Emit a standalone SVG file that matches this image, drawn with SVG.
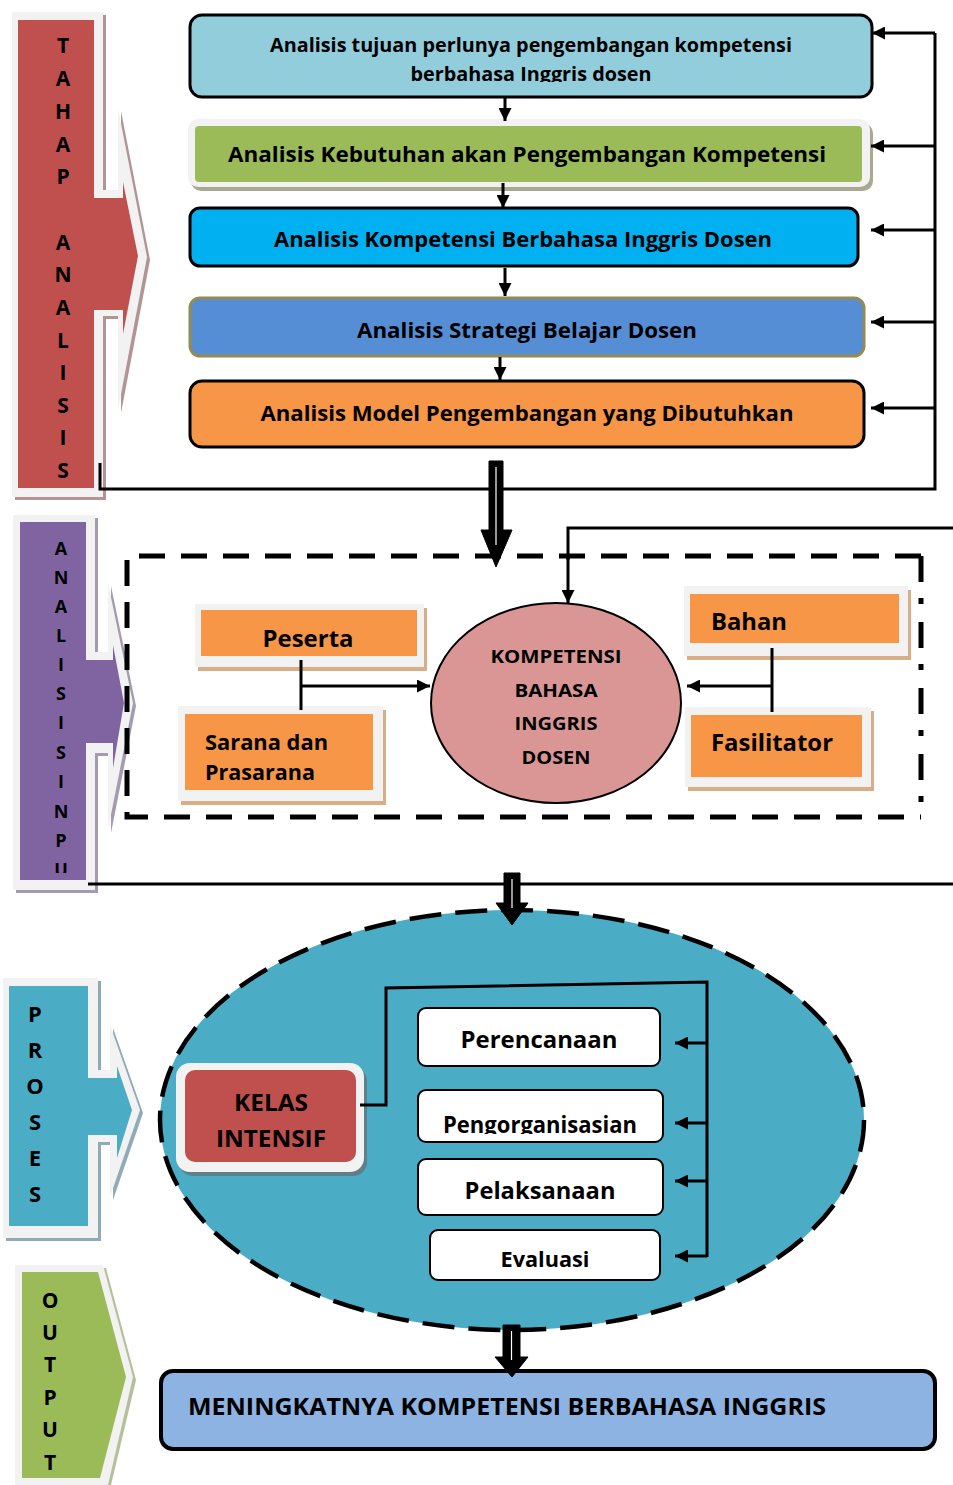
<svg xmlns="http://www.w3.org/2000/svg" width="953" height="1485" viewBox="0 0 953 1485">
  <defs>
    <marker id="tri" viewBox="0 0 10 10" refX="10" refY="5" markerWidth="13" markerHeight="13" markerUnits="userSpaceOnUse" orient="auto">
      <path d="M0,0 L10,5 L0,10 Z" fill="#000"/>
    </marker>
    <clipPath id="clipBox1"><rect x="190" y="15" width="682" height="67"/></clipPath>
    <clipPath id="clipOrg"><rect x="418" y="1090" width="245" height="44"/></clipPath>
    <clipPath id="clipInput"><rect x="20" y="522" width="66" height="351"/></clipPath>
  </defs>
  <style>
    text { font-family: "Open Sans", "Liberation Sans", sans-serif; font-weight: bold; fill: #000; }
    .c { text-anchor: middle; }
    .side { font-size: 21px; text-anchor: middle; }
    .gray { fill: #f2f2f2; }
    .conn { fill: none; stroke: #000; stroke-width: 3; }
    .arr { marker-end: url(#tri); }
    .dbl { fill: #000; stroke: #000; stroke-width: 1; stroke-linejoin: miter; }
    .dbl-gap { stroke: #fff; stroke-width: 1.2; }
    .orange { fill: #f79646; }
    .tan { fill: #d9ad86; }
    .white { fill: #fff; stroke: #000; stroke-width: 2; }
  </style>

  <!-- Stage label: TAHAP ANALISIS -->
  <g id="tahap-analisis">
    <path d="M15,15 H106 V193 H121 V111 L150,260 L121,413 V319 H106 V500 H15 Z" fill="#b39494"/>
    <path class="gray" d="M12,12 H103 V190 H118 V108 L147,257 L118,410 V316 H103 V497 H12 Z"/>
    <path d="M18,20 H94 V198 H123 V182 L138,256 L123,334 V310 H94 V488 H18 Z" fill="#c0504d"/>
    <g class="side">
      <text x="63" y="53">T</text><text x="63" y="86">A</text><text x="63" y="119">H</text>
      <text x="63" y="152">A</text><text x="63" y="184">P</text>
      <text x="63" y="250">A</text><text x="63" y="282">N</text><text x="63" y="315">A</text>
      <text x="63" y="348">L</text><text x="63" y="380">I</text><text x="63" y="413">S</text>
      <text x="63" y="445">I</text><text x="63" y="478">S</text>
    </g>
  </g>

  <!-- Analysis steps -->
  <g id="step1">
    <rect x="190" y="15" width="682" height="82" rx="12" fill="#92cddc" stroke="#000" stroke-width="3"/>
    <text class="c" x="531" y="52" font-size="20" textLength="522" lengthAdjust="spacingAndGlyphs">Analisis tujuan perlunya pengembangan kompetensi</text>
    <g clip-path="url(#clipBox1)">
      <text class="c" x="531" y="81" font-size="20" textLength="241" lengthAdjust="spacingAndGlyphs">berbahasa Inggris dosen</text>
    </g>
  </g>
  <g id="step2">
    <rect x="191" y="123" width="682" height="68" rx="10" fill="#a9a98f"/>
    <rect class="gray" x="188" y="119" width="682" height="68" rx="10"/>
    <rect x="195" y="126" width="667" height="56" rx="4" fill="#9bbb59"/>
    <text class="c" x="527" y="162" font-size="22" textLength="598" lengthAdjust="spacingAndGlyphs">Analisis Kebutuhan  akan Pengembangan  Kompetensi</text>
  </g>
  <g id="step3">
    <rect x="190" y="208" width="668" height="58" rx="10" fill="#00b0f0" stroke="#000" stroke-width="3"/>
    <text class="c" x="523" y="247" font-size="21" textLength="498" lengthAdjust="spacingAndGlyphs">Analisis Kompetensi Berbahasa Inggris Dosen</text>
  </g>
  <g id="step4">
    <rect x="190" y="298" width="674" height="58" rx="10" fill="#558ed5" stroke="#948a54" stroke-width="3"/>
    <text class="c" x="527" y="338" font-size="21" textLength="340" lengthAdjust="spacingAndGlyphs">Analisis Strategi Belajar  Dosen</text>
  </g>
  <g id="step5">
    <rect x="190" y="381" width="674" height="66" rx="12" fill="#f79646" stroke="#000" stroke-width="3"/>
    <text class="c" x="527" y="421" font-size="21" textLength="533" lengthAdjust="spacingAndGlyphs">Analisis Model Pengembangan yang Dibutuhkan</text>
  </g>

  <!-- Stage label: ANALISIS INPUT -->
  <g id="analisis-input">
    <path d="M16,518 H98 V655 H111 V586 L136,706 L111,833 V756 H98 V893 H16 Z" fill="#a49bb0"/>
    <path class="gray" d="M13,515 H95 V652 H108 V583 L133,703 L108,830 V753 H95 V890 H13 Z"/>
    <path d="M20,522 H86 V660 H113 V645 L124,703 L113,768 V743 H86 V880 H20 Z" fill="#8064a2"/>
    <g class="side" clip-path="url(#clipInput)">
      <text x="61" y="555" font-size="18">A</text><text x="61" y="584" font-size="18">N</text>
      <text x="61" y="613" font-size="18">A</text><text x="61" y="642" font-size="18">L</text>
      <text x="61" y="671" font-size="18">I</text><text x="61" y="700" font-size="18">S</text>
      <text x="61" y="729" font-size="18">I</text><text x="61" y="759" font-size="18">S</text>
      <text x="61" y="788" font-size="18">I</text><text x="61" y="818" font-size="18">N</text>
      <text x="61" y="847" font-size="18">P</text><text x="61" y="876" font-size="18">U</text>
    </g>
  </g>

  <!-- Input frame: dashed on three sides, dash-dot on the right -->
  <g id="input-frame" fill="none" stroke="#000" stroke-width="5">
    <path d="M921,556 H127 V817 H921" stroke-dasharray="26 16"/>
    <path d="M921,556 V817" stroke-dasharray="26 16 6 18"/>
  </g>

  <g id="peserta">
    <rect class="tan" x="198" y="608" width="229" height="63"/>
    <rect class="gray" x="195" y="604" width="229" height="63"/>
    <rect class="orange" x="201" y="610" width="216" height="46"/>
    <text class="c" x="308" y="647" font-size="23" textLength="91" lengthAdjust="spacingAndGlyphs">Peserta</text>
  </g>
  <g id="sarana">
    <rect class="tan" x="181" y="710" width="205" height="95"/>
    <rect class="gray" x="178" y="706" width="205" height="95"/>
    <rect class="orange" x="185" y="714" width="188" height="76"/>
    <text x="205" y="750" font-size="21" textLength="123" lengthAdjust="spacingAndGlyphs">Sarana dan</text>
    <text x="205" y="780" font-size="21" textLength="110" lengthAdjust="spacingAndGlyphs">Prasarana</text>
  </g>
  <g id="kompetensi">
    <ellipse cx="556" cy="703" rx="125" ry="100" fill="#d99694" stroke="#000" stroke-width="2"/>
    <text class="c" x="556" y="663" font-size="18" textLength="131" lengthAdjust="spacingAndGlyphs">KOMPETENSI</text>
    <text class="c" x="556" y="697" font-size="18" textLength="83" lengthAdjust="spacingAndGlyphs">BAHASA</text>
    <text class="c" x="556" y="730" font-size="18" textLength="83" lengthAdjust="spacingAndGlyphs">INGGRIS</text>
    <text class="c" x="556" y="764" font-size="18" textLength="69" lengthAdjust="spacingAndGlyphs">DOSEN</text>
  </g>
  <g id="bahan">
    <rect class="tan" x="687" y="590" width="224" height="70"/>
    <rect class="gray" x="684" y="586" width="224" height="70"/>
    <rect class="orange" x="690" y="594" width="209" height="49"/>
    <text x="711" y="630" font-size="23" textLength="76" lengthAdjust="spacingAndGlyphs">Bahan</text>
  </g>
  <g id="fasilitator">
    <rect class="tan" x="688" y="711" width="186" height="80"/>
    <rect class="gray" x="685" y="707" width="186" height="80"/>
    <rect class="orange" x="691" y="715" width="171" height="62"/>
    <text x="711" y="751" font-size="23" textLength="122" lengthAdjust="spacingAndGlyphs">Fasilitator</text>
  </g>

  <!-- Stage label: PROSES -->
  <g id="proses">
    <path d="M6,981 H101 V1073 H113 V1028 L143,1113 L113,1200 V1145 H101 V1241 H6 Z" fill="#8fabb5"/>
    <path class="gray" d="M3,978 H98 V1070 H110 V1025 L140,1110 L110,1197 V1142 H98 V1238 H3 Z"/>
    <path d="M9,986 H88 V1078 H117 V1066 L132,1110 L117,1158 V1135 H88 V1226 H9 Z" fill="#4bacc6"/>
    <g class="side">
      <text x="35" y="1022" font-size="22">P</text><text x="35" y="1058" font-size="22">R</text>
      <text x="35" y="1094" font-size="22">O</text><text x="35" y="1130" font-size="22">S</text>
      <text x="35" y="1166" font-size="22">E</text><text x="35" y="1202" font-size="22">S</text>
    </g>
  </g>

  <!-- Process area -->
  <ellipse id="process-area" cx="512" cy="1120" rx="352" ry="210" fill="#4bacc6" stroke="#000" stroke-width="4.5" stroke-dasharray="32 14"/>

  <g id="kelas-intensif">
    <rect x="179" y="1067" width="188" height="109" rx="14" fill="#5f7f8a"/>
    <rect class="gray" x="176" y="1063" width="188" height="109" rx="14"/>
    <rect x="185" y="1070" width="171" height="92" rx="10" fill="#c0504d"/>
    <text class="c" x="271" y="1111" font-size="23" textLength="74" lengthAdjust="spacingAndGlyphs">KELAS</text>
    <text class="c" x="271" y="1147" font-size="23" textLength="110" lengthAdjust="spacingAndGlyphs">INTENSIF</text>
  </g>
  <g id="perencanaan">
    <rect class="white" x="418" y="1008" width="242" height="58" rx="8"/>
    <text class="c" x="539" y="1048" font-size="23" textLength="157" lengthAdjust="spacingAndGlyphs">Perencanaan</text>
  </g>
  <g id="pengorganisasian">
    <rect class="white" x="418" y="1090" width="245" height="52" rx="8"/>
    <g clip-path="url(#clipOrg)">
      <text class="c" x="540" y="1133" font-size="23" textLength="194" lengthAdjust="spacingAndGlyphs">Pengorganisasian</text>
    </g>
  </g>
  <g id="pelaksanaan">
    <rect class="white" x="418" y="1159" width="245" height="56" rx="8"/>
    <text class="c" x="540" y="1199" font-size="23" textLength="151" lengthAdjust="spacingAndGlyphs">Pelaksanaan</text>
  </g>
  <g id="evaluasi">
    <rect class="white" x="430" y="1230" width="230" height="50" rx="8"/>
    <text class="c" x="545" y="1267" font-size="21" textLength="89" lengthAdjust="spacingAndGlyphs">Evaluasi</text>
  </g>

  <!-- Stage label: OUTPUT -->
  <g id="output-label">
    <path d="M18,1268 H106 L136,1380 L111,1485 H18 Z" fill="#b5bf99"/>
    <path class="gray" d="M15,1265 H103 L133,1377 L108,1485 H15 Z"/>
    <path d="M22,1272 H98 L126,1377 L100,1478 H22 Z" fill="#9bbb59"/>
    <g class="side">
      <text x="50" y="1308">O</text><text x="50" y="1340">U</text>
      <text x="50" y="1372">T</text><text x="50" y="1405">P</text>
      <text x="50" y="1437">U</text><text x="50" y="1470">T</text>
    </g>
  </g>
  <g id="output">
    <rect x="161" y="1371" width="774" height="78" rx="12" fill="#8db3e2" stroke="#000" stroke-width="4"/>
    <text x="188" y="1415" font-size="24" textLength="638" lengthAdjust="spacingAndGlyphs">MENINGKATNYA KOMPETENSI BERBAHASA INGGRIS</text>
  </g>

  <!-- Connectors -->
  <g id="connectors">
    <!-- step flow -->
    <line class="conn arr" x1="505" y1="98" x2="505" y2="121" stroke-width="2"/>
    <line class="conn arr" x1="503" y1="183" x2="503" y2="208" stroke-width="2"/>
    <line class="conn arr" x1="505" y1="268" x2="505" y2="296" stroke-width="2"/>
    <line class="conn arr" x1="500" y1="357" x2="500" y2="380" stroke-width="2"/>
    <!-- feedback loop of the analysis stage -->
    <polyline class="conn" points="100,463 100,489 935,489 935,33"/>
    <line class="conn arr" x1="935" y1="33" x2="872" y2="33"/>
    <line class="conn arr" x1="935" y1="146" x2="871" y2="146"/>
    <line class="conn arr" x1="935" y1="230" x2="871" y2="230"/>
    <line class="conn arr" x1="935" y1="322" x2="871" y2="322"/>
    <line class="conn arr" x1="935" y1="408" x2="871" y2="408"/>
    <!-- link into the competence node -->
    <polyline class="conn" points="953,528 568,528 568,560" stroke-width="4"/>
    <line class="conn arr" x1="568" y1="556" x2="568" y2="603" stroke-width="3"/>
    <!-- input resources -->
    <line class="conn" x1="301" y1="660" x2="301" y2="710"/>
    <line class="conn arr" x1="301" y1="686" x2="430" y2="686"/>
    <line class="conn" x1="772" y1="648" x2="772" y2="712"/>
    <line class="conn arr" x1="772" y1="686" x2="687" y2="686"/>
    <!-- separator -->
    <line class="conn" x1="88" y1="884" x2="953" y2="884" stroke-width="4"/>
    <!-- stage transitions -->
    <path class="dbl" d="M489,461 H503 V530 H512 L496,567 L481,530 H489 Z"/>
    <line class="dbl-gap" x1="496" y1="467" x2="496" y2="545"/>
    <path class="dbl" d="M504,873 H520 V903 H528 L512,925 L496,903 H504 Z"/>
    <line class="dbl-gap" x1="512" y1="879" x2="512" y2="908"/>
    <path class="dbl" d="M503,1325 H520 V1357 H528 L512,1377 L495,1357 H503 Z"/>
    <line class="dbl-gap" x1="511.5" y1="1331" x2="511.5" y2="1360"/>
    <!-- process activities -->
    <polyline class="conn" points="360,1105 386,1105 386,988 707,982 707,1257" stroke-width="3.5"/>
    <line class="conn arr" x1="707" y1="1043" x2="675" y2="1043"/>
    <line class="conn arr" x1="707" y1="1123" x2="675" y2="1123"/>
    <line class="conn arr" x1="707" y1="1181" x2="675" y2="1181"/>
    <line class="conn arr" x1="707" y1="1256" x2="675" y2="1256"/>
  </g>
</svg>
